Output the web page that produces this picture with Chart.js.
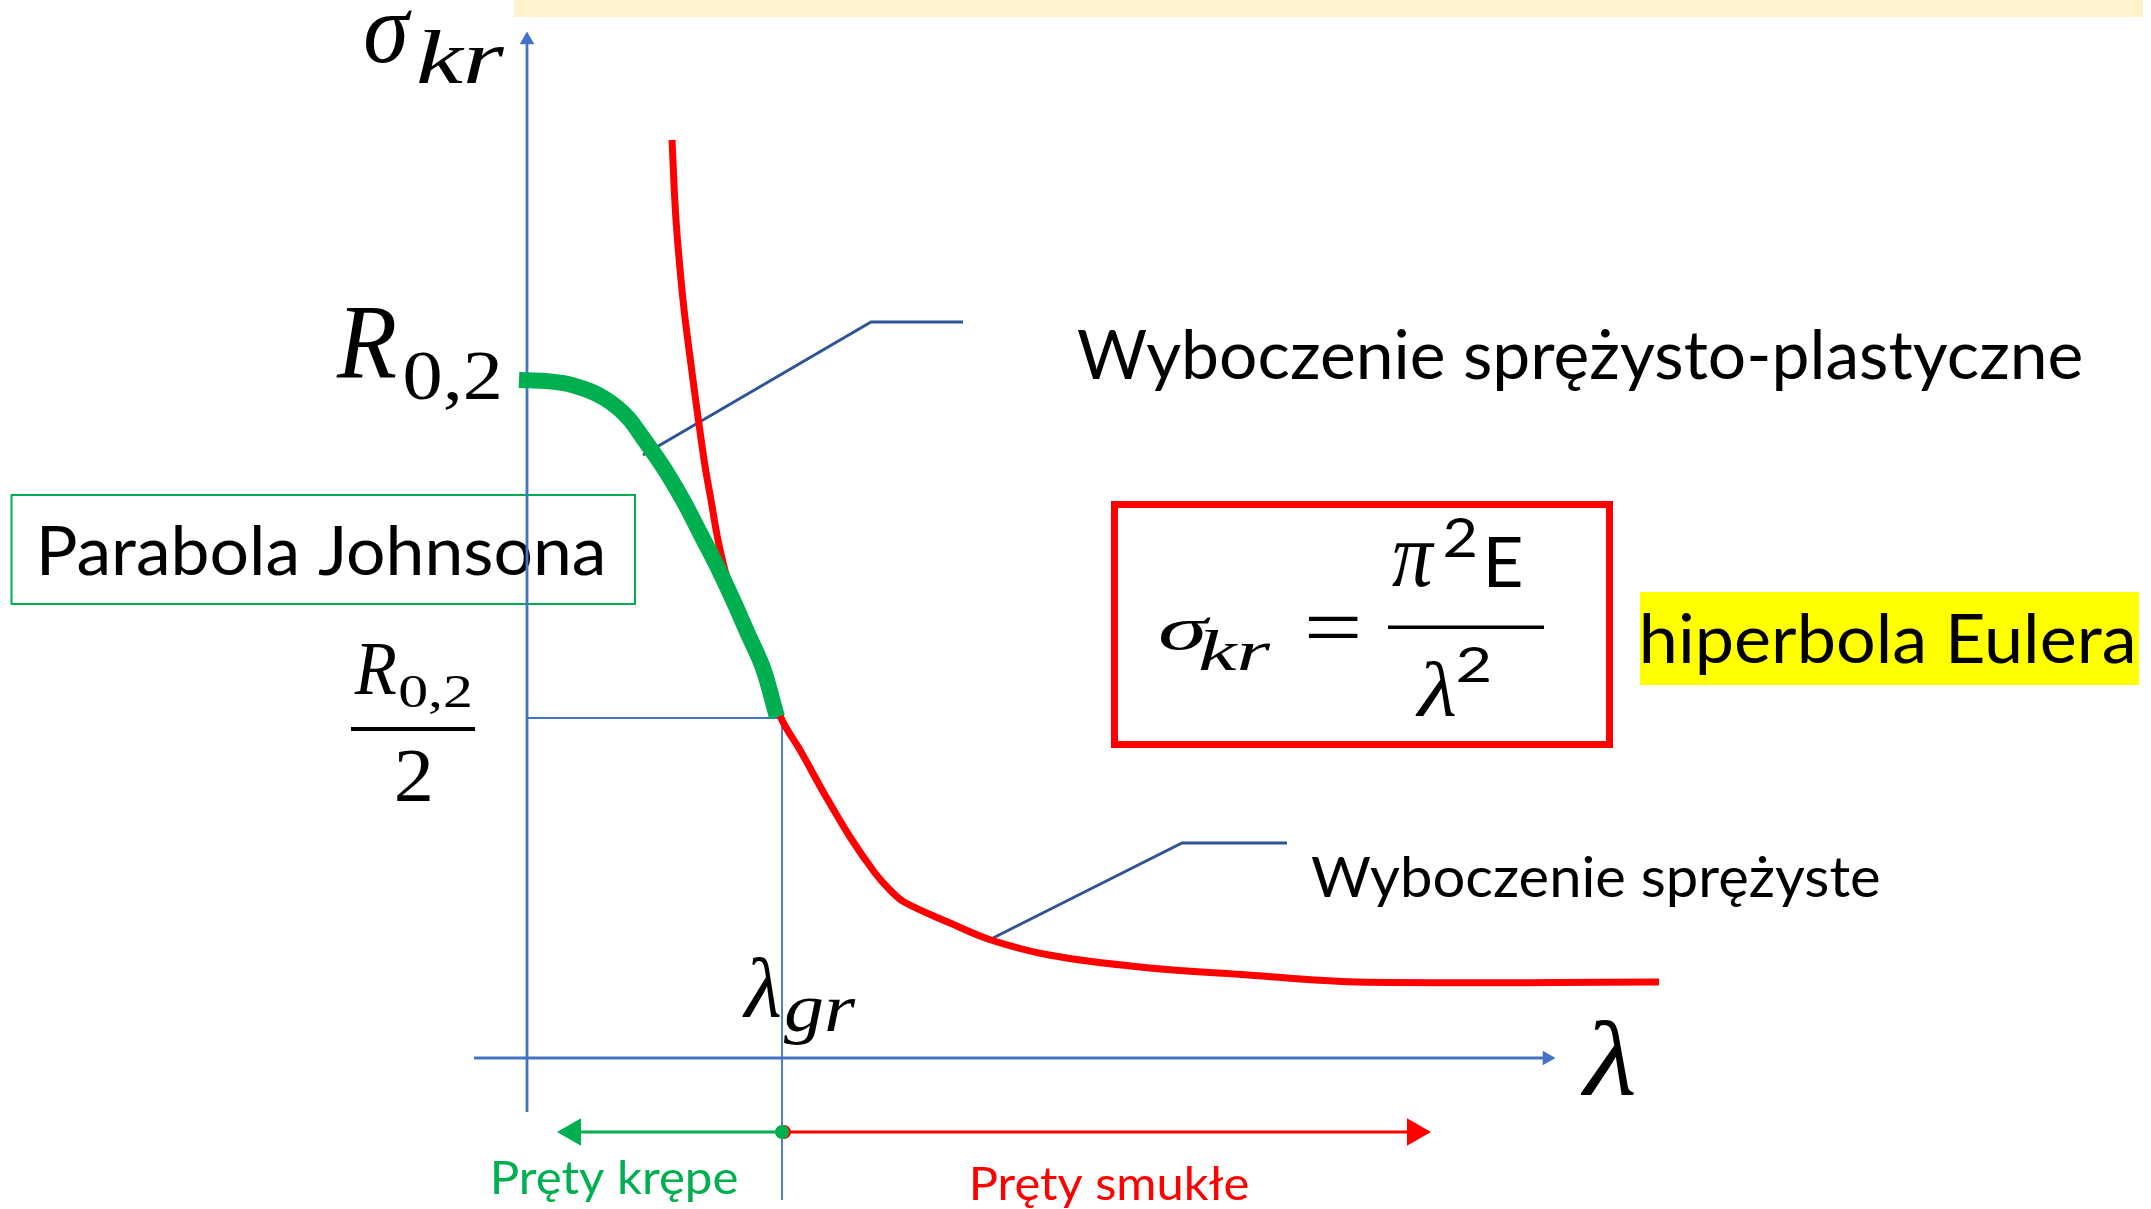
<!DOCTYPE html>
<html>
<head>
<meta charset="utf-8">
<title>Wyboczenie - hiperbola Eulera i parabola Johnsona</title>
<script src="https://cdn.jsdelivr.net/npm/chart.js@4.4.1/dist/chart.umd.min.js"></script>
<style>
  html, body { margin: 0; padding: 0; background: #fff; overflow: hidden; }
  #wrap { width: 2151px; height: 1209px; }
</style>
</head>
<body>
<div id="wrap"><canvas id="chart"></canvas></div>
<script>
// slenderness (lambda) and critical stress (sigma_kr), in diagram units
const johnsonLambda = [-0.8, 1.8, 4.1, 6.3, 7.7, 9.1, 10.3, 11.6, 12.8, 14.0, 15.7, 17.3, 19.0, 20.6, 22.1, 23.6, 25.0];
const johnsonSigma  = [67.8, 67.7, 67.4, 66.7, 66.0, 65.0, 63.8, 62.0, 60.3, 58.5, 55.6, 52.5, 49.2, 45.8, 42.4, 39.0, 34.1];

const eulerLambda = [14.5, 14.9, 15.6, 16.3, 17.1, 17.8, 18.4, 19.1, 20.0, 21.3, 22.8, 24.1, 25.5, 27.3, 29.8, 32.3, 34.8, 36.3, 37.7, 42.3, 46.4, 52.2, 61.3, 72.1, 82.9, 113.2];
const eulerSigma  = [91.8, 83.8, 75.8, 70.1, 64.1, 59.2, 55.8, 51.8, 48.1, 45.1, 41.5, 37.8, 33.8, 30.8, 26.3, 22.1, 18.5, 16.8, 15.6, 13.5, 11.8, 10.3, 9.1, 8.3, 7.6, 7.6];

const lambdaGr = 25.5;      // limit slenderness
const sigmaGr = 34.0;       // R0,2 / 2
const axisLambda = [-5.3, 102.8];   // x axis start / arrow tip
const axisSigma = [-5.4, 102.6];    // y axis start / arrow tip
const rangeLevel = -7.4;            // level of the "krępe / smukłe" arrows
const rangeEnds = [3.0, 90.4];      // left and right arrow tips
const guideBottom = -14.2;

// leader lines to the labels
const leaderPlastic = [[11.6, 60.3], [34.4, 73.6], [43.6, 73.6]];
const leaderElastic = [[46.6, 12.0], [65.5, 21.5], [76.0, 21.5]];

const BLUE = '#4472C4';
const DARK_BLUE = '#2F5597';
const GREEN = '#00B050';
const RED = '#FF0000';

function pts(xs, ys) {
    return xs.map((x, i) => ({ x: x, y: ys[i] }));
}

function line(points, color, width, extra) {
    return Object.assign({
        data: points,
        showLine: true,
        borderColor: color,
        backgroundColor: color,
        borderWidth: width,
        pointRadius: 0,
        fill: false,
        tension: 0
    }, extra || {});
}

function arrowHead(x, y, color, radius, rotation) {
    return {
        data: [{ x: x, y: y }],
        showLine: false,
        pointStyle: 'triangle',
        pointRadius: radius,
        pointRotation: rotation,
        backgroundColor: color,
        borderColor: color,
        borderWidth: 0
    };
}

// text fitted into an ink box (used for the math symbols)
function inkBox(ctx, text, font, l, t, r, b) {
    ctx.save();
    ctx.font = font;
    ctx.textAlign = 'left';
    ctx.textBaseline = 'alphabetic';
    const m = ctx.measureText(text);
    const w = m.actualBoundingBoxLeft + m.actualBoundingBoxRight;
    const h = m.actualBoundingBoxAscent + m.actualBoundingBoxDescent;
    ctx.translate(l, t);
    ctx.scale((r - l) / w, (b - t) / h);
    ctx.fillText(text, m.actualBoundingBoxLeft, m.actualBoundingBoxAscent);
    ctx.restore();
}

// one line of text squeezed to a given width on a baseline
function fitLine(ctx, text, size, l, r, baseline) {
    ctx.save();
    ctx.font = size + "px Lato, 'Open Sans', sans-serif";
    ctx.textAlign = 'left';
    ctx.textBaseline = 'alphabetic';
    const m = ctx.measureText(text);
    const w = m.actualBoundingBoxLeft + m.actualBoundingBoxRight;
    ctx.translate(l, baseline);
    ctx.scale((r - l) / w, 1);
    ctx.fillText(text, m.actualBoundingBoxLeft, 0);
    ctx.restore();
}

const MATH_I = "italic 100px 'Liberation Serif', 'DejaVu Serif', serif";
const MATH_R = "100px 'Liberation Serif', 'DejaVu Serif', serif";
const SANS = "100px Lato, 'Open Sans', sans-serif";

const labelsPlugin = {
    id: 'labels',
    beforeDraw(chart) {
        const ctx = chart.ctx;
        ctx.save();
        ctx.fillStyle = '#fff';
        ctx.fillRect(0, 0, chart.width, chart.height);
        ctx.restore();
    },
    beforeDatasetsDraw(chart) {
        const ctx = chart.ctx;
        ctx.save();

        // title strip at the top (cut off)
        ctx.fillStyle = '#FFF2CC';
        ctx.fillRect(514, 0, 1629, 17);

        // boxes
        ctx.strokeStyle = GREEN;
        ctx.lineWidth = 2;
        ctx.strokeRect(11.5, 495, 623.5, 109);

        ctx.strokeStyle = RED;
        ctx.lineWidth = 7;
        ctx.strokeRect(1114.5, 504.5, 495, 240);

        ctx.fillStyle = '#FFFF00';
        ctx.fillRect(1640, 592, 499, 93);

        ctx.fillStyle = '#000';

        // axis symbols
        inkBox(ctx, 'σ', MATH_I, 365, 10, 412, 63);
        inkBox(ctx, 'kr', MATH_I, 418, 30, 505, 83);
        inkBox(ctx, 'λ', MATH_I, 1580, 1020, 1634, 1095);

        // R0,2
        inkBox(ctx, 'R', MATH_I, 336, 308, 396, 378);
        inkBox(ctx, '0,2', MATH_R, 405, 353, 499, 410);

        // R0,2 / 2
        inkBox(ctx, 'R', MATH_I, 354, 645, 396, 695);
        inkBox(ctx, '0,2', MATH_R, 400, 676, 470, 714);
        ctx.fillRect(351, 727, 124, 4);
        inkBox(ctx, '2', MATH_R, 397, 751, 430, 802);

        // lambda_gr
        inkBox(ctx, 'λ', MATH_I, 742, 957, 780, 1017);
        inkBox(ctx, 'gr', MATH_I, 784, 998, 856, 1045);

        // Euler formula
        inkBox(ctx, 'σ', MATH_I, 1160, 617, 1211, 650);
        inkBox(ctx, 'kr', MATH_I, 1200, 630, 1271, 670);
        inkBox(ctx, '=', MATH_R, 1308, 617, 1358, 638);
        inkBox(ctx, 'π', MATH_I, 1392, 543, 1435, 587);
        inkBox(ctx, '2', SANS, 1445, 518, 1475, 557);
        inkBox(ctx, 'E', SANS, 1489, 537, 1521, 587);
        ctx.fillRect(1388, 625.5, 156, 3.5);
        inkBox(ctx, 'λ', MATH_I, 1415, 662, 1455, 717);
        inkBox(ctx, '2', SANS, 1458, 647, 1489, 682);

        // descriptions
        fitLine(ctx, 'Wyboczenie sprężysto-plastyczne', 67, 1078, 2081, 379);
        fitLine(ctx, 'Parabola Johnsona', 67, 42, 602, 575);
        fitLine(ctx, 'hiperbola Eulera', 67, 1643, 2132, 663);
        fitLine(ctx, 'Wyboczenie sprężyste', 56, 1311, 1879, 897);

        ctx.fillStyle = GREEN;
        fitLine(ctx, 'Pręty krępe', 46, 494, 737, 1194);
        ctx.fillStyle = RED;
        fitLine(ctx, 'Pręty smukłe', 46, 973, 1248, 1200);

        ctx.restore();
    }
};

// first dataset is drawn on top
const datasets = [
    line(pts(johnsonLambda, johnsonSigma), GREEN, 16, { tension: 0.35 }),
    line(pts(eulerLambda, eulerSigma), RED, 7, { tension: 0.35 }),

    // range arrows under the lambda axis
    {
        data: [{ x: lambdaGr, y: rangeLevel }],
        showLine: false,
        pointStyle: 'circle',
        pointRadius: 7,
        backgroundColor: GREEN,
        borderWidth: 0
    },
    arrowHead(rangeEnds[0] + 1.6, rangeLevel, GREEN, 16, 270),
    line([{ x: lambdaGr, y: rangeLevel }, { x: rangeEnds[0] + 1.6, y: rangeLevel }], GREEN, 3),
    {
        data: [{ x: lambdaGr + 0.2, y: rangeLevel }],
        showLine: false,
        pointStyle: 'circle',
        pointRadius: 7,
        backgroundColor: RED,
        borderWidth: 0
    },
    arrowHead(rangeEnds[1] - 1.6, rangeLevel, RED, 16, 90),
    line([{ x: lambdaGr + 0.4, y: rangeLevel }, { x: rangeEnds[1] - 1.6, y: rangeLevel }], RED, 3),

    // leader lines
    line(leaderPlastic.map(p => ({ x: p[0], y: p[1] })), DARK_BLUE, 3),
    line(leaderElastic.map(p => ({ x: p[0], y: p[1] })), DARK_BLUE, 3),

    // guide lines at lambda_gr
    line([{ x: 0, y: sigmaGr }, { x: lambdaGr, y: sigmaGr }], BLUE, 1.8),
    line([{ x: lambdaGr, y: sigmaGr }, { x: lambdaGr, y: guideBottom }], BLUE, 1.8),

    // axes
    arrowHead(0, axisSigma[1] - 0.8, BLUE, 8.5, 0),
    line([{ x: 0, y: axisSigma[0] }, { x: 0, y: axisSigma[1] - 0.8 }], BLUE, 2.8),
    arrowHead(axisLambda[1] - 0.8, 0, BLUE, 8.5, 90),
    line([{ x: axisLambda[0], y: 0 }, { x: axisLambda[1] - 0.8, y: 0 }], BLUE, 2.8)
];

new Chart(document.getElementById('chart'), {
    type: 'scatter',
    data: { datasets: datasets },
    options: {
        responsive: true,
        maintainAspectRatio: false,
        devicePixelRatio: 1,
        animation: false,
        layout: { padding: 0, autoPadding: false },
        plugins: {
            legend: { display: false },
            tooltip: { enabled: false }
        },
        scales: {
            x: { type: 'linear', min: -52.7, max: 162.4, display: false },
            y: { type: 'linear', min: -15.1, max: 105.8, display: false }
        }
    },
    plugins: [labelsPlugin]
});
</script>
</body>
</html>
